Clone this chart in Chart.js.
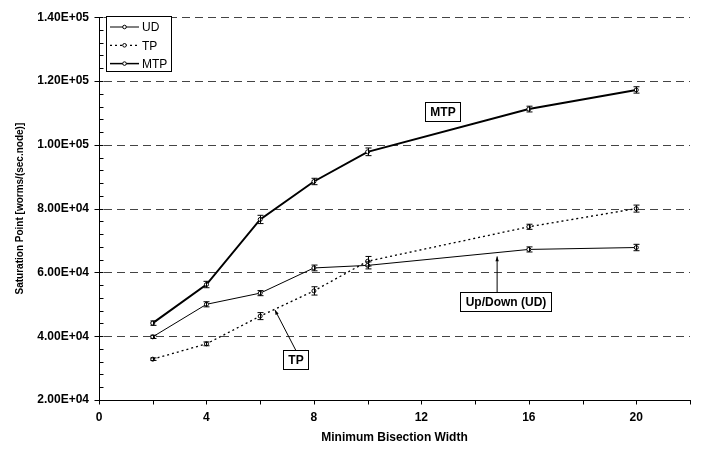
<!DOCTYPE html>
<html>
<head>
<meta charset="utf-8">
<script src="https://cdn.jsdelivr.net/npm/chart.js"></script>
<style>
  html, body { margin: 0; padding: 0; background: #fff; }
  #wrap { width: 702px; height: 449px; }
</style>
</head>
<body>
<div id="wrap"><canvas id="c" width="702" height="449"></canvas></div>
<script>
// bisection widths
const xVals = [2, 4, 6, 8, 10, 16, 20];
// saturation points
const udVals = [39800, 50000, 53500, 61400, 62200, 67200, 67800];
const tpVals = [32800, 37600, 46300, 54200, 63500, 74300, 80000];
const mtpVals = [44100, 56200, 76600, 88500, 97800, 111200, 117200];
// error bar half heights
const udErr = [500, 800, 800, 900, 1100, 800, 1000];
const tpErr = [400, 600, 1100, 1300, 1500, 800, 1100];
const mtpErr = [700, 1000, 1300, 1000, 1200, 900, 1000];
// axis ticks
const xTicks = [0, 2, 4, 6, 8, 10, 12, 14, 16, 18, 20, 22];
const xLabelTicks = [0, 4, 8, 12, 16, 20];
const yTicks = [20000, 40000, 60000, 80000, 100000, 120000, 140000];
const yMinorStep = 4000;

const FONT = "'Liberation Sans', Arial, sans-serif";

function fmtExp(v) {
    const e = Math.floor(Math.log10(v));
    const m = (v / Math.pow(10, e)).toFixed(2);
    return m + "E+" + (e < 10 ? "0" + e : e);
}

function pts(vals, errs) {
    return xVals.map((x, i) => ({ x: x, y: vals[i], err: errs[i] }));
}

const gridPlugin = {
    id: "gridPlugin",
    beforeDatasetsDraw(chart) {
        const ctx = chart.ctx;
        const a = chart.chartArea;
        const xs = chart.scales.x, ys = chart.scales.y;
        ctx.save();
        ctx.strokeStyle = "#444";
        ctx.lineWidth = 1;
        ctx.setLineDash([8, 5]);
        yTicks.forEach(v => {
            if (v === yTicks[0]) return;
            const y = Math.round(ys.getPixelForValue(v)) + 0.5;
            ctx.beginPath();
            ctx.moveTo(a.left + 5, y);
            ctx.lineTo(a.right, y);
            ctx.stroke();
        });
        ctx.setLineDash([]);
        ctx.strokeStyle = "#000";
        // y ticks
        const x0 = Math.round(a.left) + 0.5;
        for (let v = yTicks[0]; v <= yTicks[yTicks.length - 1]; v += yMinorStep) {
            const y = Math.round(ys.getPixelForValue(v)) + 0.5;
            ctx.beginPath();
            if (yTicks.includes(v)) {
                ctx.moveTo(x0 - 5, y);
                ctx.lineTo(x0 + 4, y);
            } else {
                ctx.moveTo(x0, y);
                ctx.lineTo(x0 + 4, y);
            }
            ctx.stroke();
        }
        // x ticks
        const yb = Math.round(a.bottom) + 0.5;
        xTicks.forEach(v => {
            const x = Math.round(xs.getPixelForValue(v)) + 0.5;
            ctx.beginPath();
            ctx.moveTo(x, yb);
            ctx.lineTo(x, yb + 4);
            ctx.stroke();
        });
        ctx.restore();
    }
};

const errPlugin = {
    id: "errPlugin",
    afterDatasetsDraw(chart) {
        const ctx = chart.ctx;
        const xs = chart.scales.x, ys = chart.scales.y;
        ctx.save();
        ctx.strokeStyle = "#000";
        ctx.lineWidth = 1;
        ctx.setLineDash([]);
        chart.data.datasets.forEach(ds => {
            ds.data.forEach(p => {
                const x = Math.round(xs.getPixelForValue(p.x)) + 0.5;
                const y1 = ys.getPixelForValue(p.y + p.err);
                const y2 = ys.getPixelForValue(p.y - p.err);
                ctx.beginPath();
                ctx.moveTo(x, y1); ctx.lineTo(x, y2);
                ctx.moveTo(x - 3, y1); ctx.lineTo(x + 3, y1);
                ctx.moveTo(x - 3, y2); ctx.lineTo(x + 3, y2);
                ctx.stroke();
            });
        });
        ctx.restore();
    }
};

// label boxes: text, box centre (data coords), arrow tip (data coords or null)
const notes = [
    { text: "MTP", x: 12.8, y: 110500, tip: null },
    { text: "TP", x: 7.33, y: 32700, tip: { x: 6.55, y: 48200 } },
    { text: "Up/Down (UD)", x: 15.15, y: 51000, tip: { x: 14.82, y: 65000 } }
];

const notePlugin = {
    id: "notePlugin",
    afterDraw(chart) {
        const ctx = chart.ctx;
        const xs = chart.scales.x, ys = chart.scales.y;
        ctx.save();
        ctx.font = "bold 12px " + FONT;
        ctx.textAlign = "center";
        ctx.textBaseline = "middle";
        notes.forEach(n => {
            const cx = xs.getPixelForValue(n.x);
            const cy = ys.getPixelForValue(n.y);
            const w = Math.round(ctx.measureText(n.text).width + 10);
            const h = 19;
            const bx = Math.round(cx - w / 2) + 0.5, by = Math.round(cy - h / 2) + 0.5;
            if (n.tip) {
                const tx = xs.getPixelForValue(n.tip.x);
                const ty = ys.getPixelForValue(n.tip.y);
                const sx = n.text === "TP" ? cx : tx;
                ctx.strokeStyle = "#000";
                ctx.lineWidth = 1;
                ctx.beginPath();
                ctx.moveTo(sx, by);
                ctx.lineTo(tx, ty);
                ctx.stroke();
                const ang = Math.atan2(ty - by, tx - sx);
                ctx.fillStyle = "#000";
                ctx.beginPath();
                ctx.moveTo(tx, ty);
                ctx.lineTo(tx - 5 * Math.cos(ang - 0.35), ty - 5 * Math.sin(ang - 0.35));
                ctx.lineTo(tx - 5 * Math.cos(ang + 0.35), ty - 5 * Math.sin(ang + 0.35));
                ctx.closePath();
                ctx.fill();
            }
            ctx.fillStyle = "#fff";
            ctx.fillRect(bx, by, w, h);
            ctx.strokeStyle = "#000";
            ctx.lineWidth = 1;
            ctx.strokeRect(bx, by, w, h);
            ctx.fillStyle = "#000";
            ctx.fillText(n.text, bx + w / 2, by + h / 2 + 1);
        });

        // legend
        const lx = 106.5, ly = 16.5, lw = 65, lh = 55;
        ctx.fillStyle = "#fff";
        ctx.fillRect(lx, ly, lw, lh);
        ctx.strokeStyle = "#000";
        ctx.strokeRect(lx, ly, lw, lh);
        ctx.font = "12px " + FONT;
        ctx.textAlign = "left";
        chart.data.datasets.forEach((ds, i) => {
            const y = 27 + i * 18.3;
            ctx.strokeStyle = "#000";
            ctx.lineWidth = Math.min(ds.borderWidth, 1.5);
            ctx.setLineDash(ds.borderDash || []);
            ctx.beginPath();
            ctx.moveTo(110, y);
            ctx.lineTo(139, y);
            ctx.stroke();
            ctx.setLineDash([]);
            ctx.lineWidth = 1;
            ctx.fillStyle = "#fff";
            ctx.beginPath();
            ctx.arc(124.5, y, 1.8, 0, Math.PI * 2);
            ctx.fill();
            ctx.stroke();
            ctx.fillStyle = "#000";
            ctx.fillText(ds.label, 142, y + 1);
        });
        ctx.restore();
    }
};

const common = {
    fill: false,
    tension: 0,
    borderColor: "#000",
    pointRadius: 2,
    pointBorderWidth: 1,
    pointBackgroundColor: "#fff",
    pointBorderColor: "#000"
};

new Chart(document.getElementById("c"), {
    type: "line",
    data: {
        datasets: [
            Object.assign({ label: "UD", data: pts(udVals, udErr), borderWidth: 1 }, common),
            Object.assign({ label: "TP", data: pts(tpVals, tpErr), borderWidth: 1.3, borderDash: [2, 3] }, common),
            Object.assign({ label: "MTP", data: pts(mtpVals, mtpErr), borderWidth: 2 }, common)
        ]
    },
    options: {
        responsive: false,
        animation: false,
        layout: { padding: { top: 12, right: 12, left: 0, bottom: 0 } },
        plugins: {
            legend: { display: false },
            tooltip: { enabled: false }
        },
        scales: {
            x: {
                type: "linear",
                min: 0,
                max: 22,
                afterFit: s => { s.height = 49; },
                afterBuildTicks: s => { s.ticks = xTicks.map(v => ({ value: v })); },
                grid: { display: false, drawTicks: false },
                border: { display: true, color: "#000", width: 1 },
                ticks: {
                    color: "#000",
                    font: { family: FONT, size: 12, weight: "bold" },
                    padding: 10,
                    maxRotation: 0,
                    autoSkip: false,
                    callback: v => xLabelTicks.includes(v) ? String(v) : ""
                },
                title: {
                    display: true,
                    text: "Minimum Bisection Width",
                    color: "#000",
                    font: { family: FONT, size: 12, weight: "bold" },
                    padding: { top: 0, bottom: 4 }
                }
            },
            y: {
                min: yTicks[0],
                max: yTicks[yTicks.length - 1],
                afterFit: s => { s.width = 99; },
                afterBuildTicks: s => { s.ticks = yTicks.map(v => ({ value: v })); },
                grid: { display: false, drawTicks: false },
                border: { display: true, color: "#000", width: 1 },
                ticks: {
                    color: "#000",
                    font: { family: FONT, size: 12, weight: "bold" },
                    padding: 10,
                    callback: v => fmtExp(v)
                },
                title: {
                    display: true,
                    text: "Saturation Point [worms/(sec.node)]",
                    color: "#000",
                    font: { family: FONT, size: 10, weight: "bold" },
                    padding: { top: 14, bottom: 0 }
                }
            }
        }
    },
    plugins: [gridPlugin, errPlugin, notePlugin]
});
</script>
</body>
</html>
